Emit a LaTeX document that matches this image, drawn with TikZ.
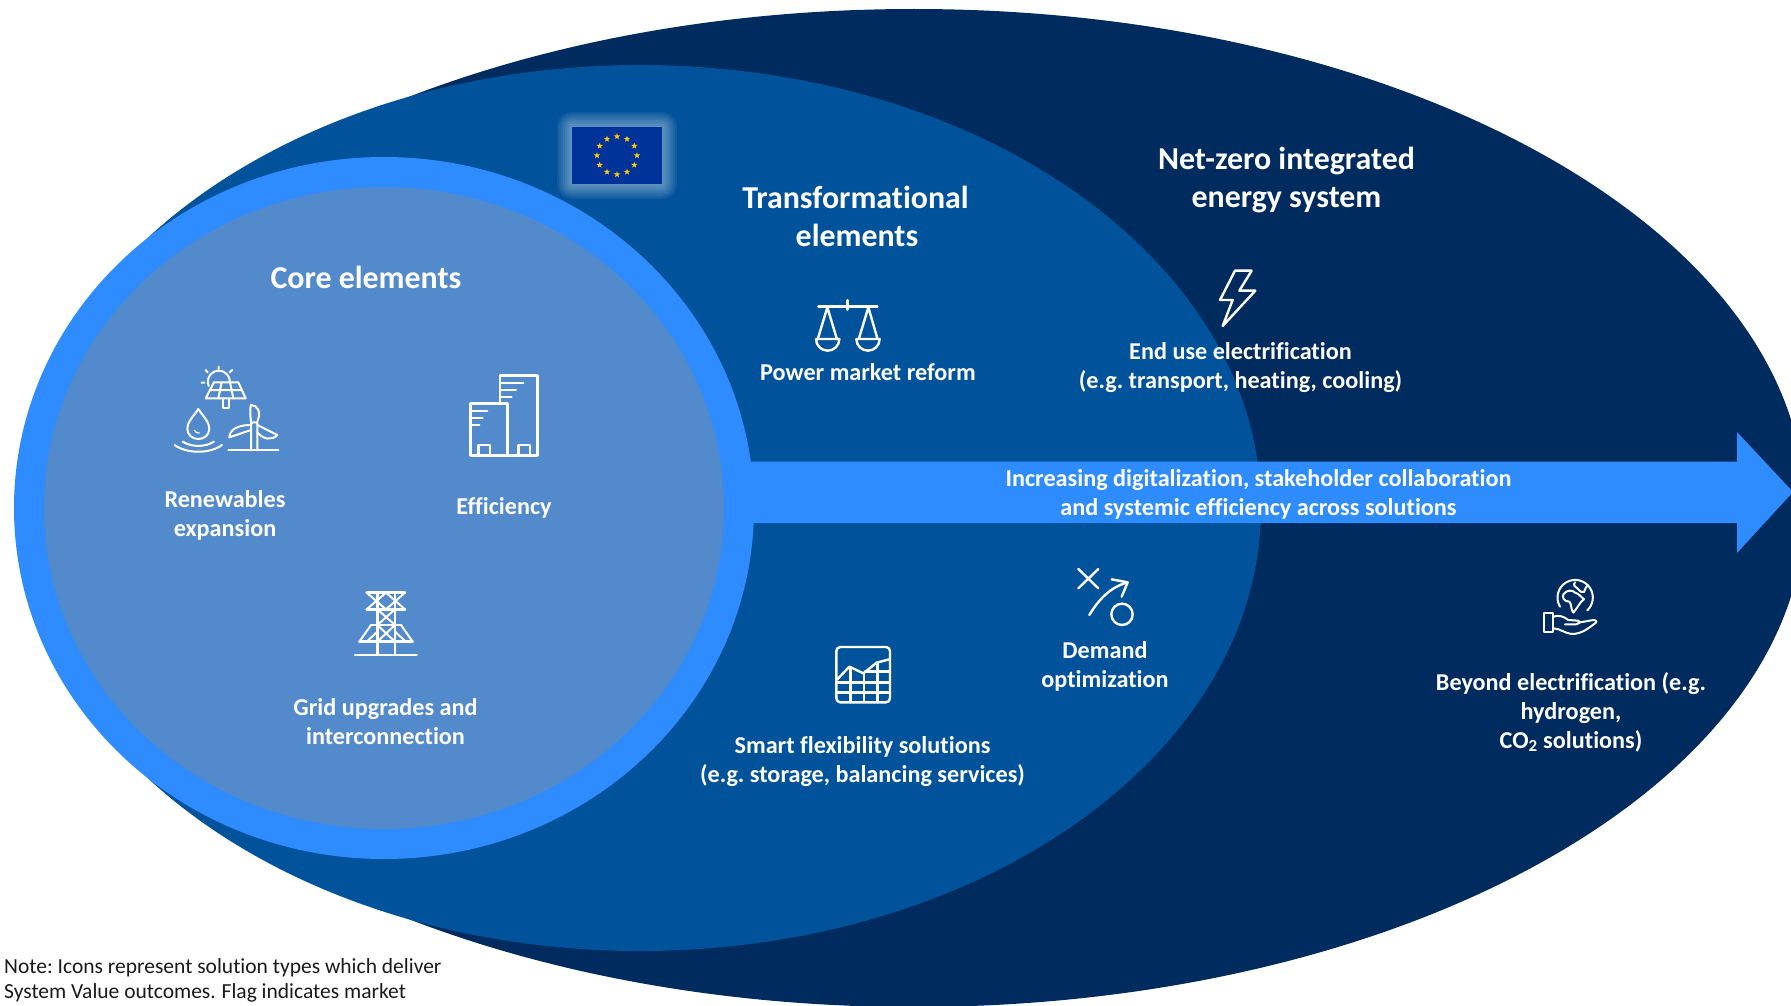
\documentclass[tikz,border=0pt]{standalone}
\usepackage{fontspec}
\setmainfont[Ligatures=CommonOff]{Carlito}
\usetikzlibrary{shapes.geometric}
\definecolor{navy}{HTML}{002B5F}
\definecolor{midblue}{HTML}{00529B}
\definecolor{brightblue}{HTML}{2E8CFF}
\definecolor{coreblue}{HTML}{528ACB}
\definecolor{flagblue}{HTML}{003399}
\definecolor{flagstar}{HTML}{FFCC00}
\definecolor{notetext}{HTML}{1A1A1A}
\tikzset{
  head/.style={text=white,font=\fontsize{31.9}{38}\selectfont\bfseries\frenchspacing,align=center,inner sep=0pt},
  lab/.style={text=white,font=\fontsize{24.2}{29}\selectfont\bfseries\frenchspacing,align=center,inner sep=0pt},
  note/.style={text=notetext,font=\fontsize{21.5}{25.5}\selectfont,align=left,inner sep=0pt,anchor=north west},
  icon/.style={draw=white,line width=2.4pt,line cap=round,line join=round},
  thinicon/.style={draw=white,line width=2pt,line cap=round,line join=round},
  z3/.style={x=0.33333pt,y=-0.33333pt},
}
\begin{document}
\begin{tikzpicture}[x=1pt,y=-1pt]
\useasboundingbox (0,0) rectangle (1791,1006);
\clip (0,0) rectangle (1791,1006);
\fill[white] (0,0) rectangle (1791,1006);
% nested regions
\fill[navy] (914,508) ellipse [x radius=891,y radius=499];
\fill[midblue] (640,508) ellipse [x radius=621,y radius=443];
% arrow
\fill[brightblue] (700,461.5) -- (1737,461.5) -- (1737,432) -- (1793,492) -- (1737,553) -- (1737,523) -- (700,523) -- cycle;
\fill[brightblue] (384,508) ellipse [x radius=370,y radius=351];
\fill[coreblue] (384,508) ellipse [x radius=340,y radius=321];
% flag glow
\foreach \e in {15,13,11,9,7,5,3,1}
  \fill[white,opacity=0.06,rounded corners=\e pt] (572-\e,127-\e) rectangle (662+\e,184+\e);
\fill[flagblue] (572,127) rectangle (662,184);
\foreach \a in {0,30,...,330}
  \node[star,star points=5,star point ratio=2.4,fill=flagstar,minimum size=6.5pt,inner sep=0pt] (flagstar\a) at ({617+20*cos(\a)},{155.5+19*sin(\a)}) {};
% titles
\node[head] (core) at (366,277.5) {Core elements};
\node[head] (trans) at (855.5,216.5) {Transformational\\ \hspace*{3pt}elements};
\node[head] (netzero) at (1286.5,180.5) {Net-zero integrated\\ energy system};
% labels
\node[lab] (renew) at (225,515) {Renewables\\ expansion};
\node[lab] (eff) at (504,508) {Efficiency};
\node[lab] (gridl) at (385.5,722) {Grid upgrades and\\ interconnection};
\node[lab] (power) at (868,372.5) {Power market reform};
\node[lab] (enduse) at (1240.5,367.5) {End use electrification\\ (e.g. transport, heating, cooling)};
\node[lab] (digi) at (1258.5,494) {Increasing digitalization, stakeholder collaboration\\ and systemic efficiency across solutions};
\node[lab] (demand) at (1105,666) {Demand\\ optimization};
\node[lab] (smart) at (862.5,761.5) {Smart flexibility solutions\\ (e.g. storage, balancing services)};
\node[lab] (beyond) at (1571,712) {Beyond electrification (e.g.\\ hydrogen,\\ CO\textsubscript{2} solutions)};
\node[note] (notetxt) at (4,958) {Note:\ Icons represent solution types which deliver\\ System Value outcomes.\ \hspace{1pt}Flag indicates market};
% icons drawn in zoom coordinates
\begin{scope}[shift={(140,340)},z3]
  % sun
  \draw[thinicon] (206,138) arc[start angle=157,end angle=362,radius=33];
  \draw[thinicon] (236,80)--(236,87) (197,90)--(203,97) (277,90)--(269,97) (185,128)--(193,128);
  % panel
  \draw[thinicon] (222,127)--(295,127)--(317,175)--(197,175)--cycle;
  \draw[thinicon] (212,150)--(305,150) (245,127)--(235,175) (270,127)--(280,175);
  \draw[thinicon] (248,175)--(248,203)--(267,203)--(267,175);
  % drop
  \draw[thinicon] (175,207) .. controls (160,230) and (142,245) .. (142,265) .. controls (142,285) and (157,297) .. (175,297) .. controls (193,297) and (208,285) .. (208,265) .. controls (208,245) and (190,230) .. (175,207) -- cycle;
  \draw[draw=white,line width=1.2pt,line cap=round] (163,271) .. controls (166,277) and (172,280) .. (178,279);
  \draw[thinicon] (128,305) .. controls (155,322) and (195,322) .. (222,305);
  \draw[thinicon] (104,315) .. controls (140,342) and (210,342) .. (246,315);
  % turbine
  \draw[thinicon] (265,331)--(415,331);
  \draw[thinicon] (333,331)--(333,250) .. controls (333,246) and (352,246) .. (352,250) -- (352,331);
  \draw[thinicon] (333,245) .. controls (330,220) and (330,205) .. (333,195) .. controls (352,195) and (365,215) .. (352,245);
  \draw[thinicon] (333,255) .. controls (305,255) and (270,262) .. (268,292) -- (333,270);
  \draw[thinicon] (352,255) -- (412,285) .. controls (395,303) and (370,298) .. (352,277);
  % building
  \draw[icon] (1080,190)--(1080,107)--(1193,107)--(1193,347)--(992,347)--(992,190)--(1103,190)--(1103,347);
  \draw[icon] (1015,347)--(1015,315)--(1050,315)--(1050,347) (1135,347)--(1135,315)--(1170,315)--(1170,347);
  \draw[thinicon] (1083,128)--(1150,128) (1083,150)--(1128,150) (1083,172)--(1115,172) (995,212)--(1042,212) (995,233)--(1028,233) (995,254)--(1018,254);
  % pylon
  \draw[icon] (680,758)--(795,758) (680,808)--(795,808) (693,855)--(783,855) (658,905)--(818,905) (645,945)--(830,945);
  \draw[icon] (712,758)--(712,945) (765,758)--(765,945);
  \draw[thinicon] (680,758)--(738,808)--(795,758) (680,808)--(738,758)--(795,808);
  \draw[thinicon] (712,808)--(765,855) (765,808)--(712,855) (712,855)--(765,905) (765,855)--(712,905);
  \draw[thinicon] (693,855)--(658,905) (783,855)--(818,905) (712,875)--(680,905) (765,875)--(797,905);
\end{scope}
\begin{scope}[shift={(540,100)},z3]
  \draw[icon] (835,620)--(1012,620) (923,601)--(923,629);
  \draw[icon] (834,715)--(862,622)--(890,715) (957,715)--(985,622)--(1012,715);
  \draw[icon] (828,717)--(898,717) arc[start angle=0,end angle=180,radius=35];
  \draw[icon] (949,717)--(1019,717) arc[start angle=0,end angle=180,radius=35];
\end{scope}
\begin{scope}[shift={(1180,250)},z3]
  \draw[icon] (165,62)--(215,62)--(178,122)--(226,122)--(128,228)--(158,150)--(120,150)--cycle;
\end{scope}
\begin{scope}[shift={(810,550)},z3]
  \draw[icon] (805,57)--(865,115) (865,57)--(805,115);
  \draw[icon] (838,195) .. controls (865,150) and (900,112) .. (950,98);
  \draw[icon] (905,88)--(953,97)--(935,140);
  \draw[icon] (936,193) circle[radius=32];
  % chart
  \draw[icon,rounded corners=4pt] (79,291) rectangle (240,457);
  \draw[icon] (82,388)--(118,350)--(160,370)--(200,338)--(238,328);
  \draw[icon] (122,352)--(122,455) (162,368)--(162,455) (203,338)--(203,455);
  \draw[icon] (82,398)--(238,398) (82,428)--(238,428) (165,365)--(238,365);
\end{scope}
\begin{scope}[shift={(1500,560)},z3]
  \draw[thinicon] (180,140) arc[start angle=149,end angle=407,radius=53];
  \draw[thinicon] (225,67) .. controls (218,75) and (225,82) .. (232,85) .. controls (240,88) and (237,98) .. (252,96) .. controls (258,88) and (255,80) .. (263,75);
  \draw[thinicon] (190,103) .. controls (200,88) and (220,90) .. (225,98) .. controls (235,100) and (245,112) .. (252,118) .. controls (240,125) and (235,140) .. (220,158) .. controls (212,150) and (215,130) .. (208,125) .. controls (195,125) and (185,115) .. (190,103) -- cycle;
  \draw[thinicon] (132,160)--(160,160)--(160,215)--(132,215)--cycle;
  \draw[thinicon] (160,170) .. controls (175,165) and (190,168) .. (205,180) -- (235,182) .. controls (242,185) and (235,195) .. (228,193) -- (195,193);
  \draw[thinicon] (235,188) -- (280,180) .. controls (290,180) and (292,186) .. (285,190) .. controls (265,205) and (245,222) .. (215,222) .. controls (195,220) and (178,205) .. (160,205);
\end{scope}
\end{tikzpicture}
\end{document}
